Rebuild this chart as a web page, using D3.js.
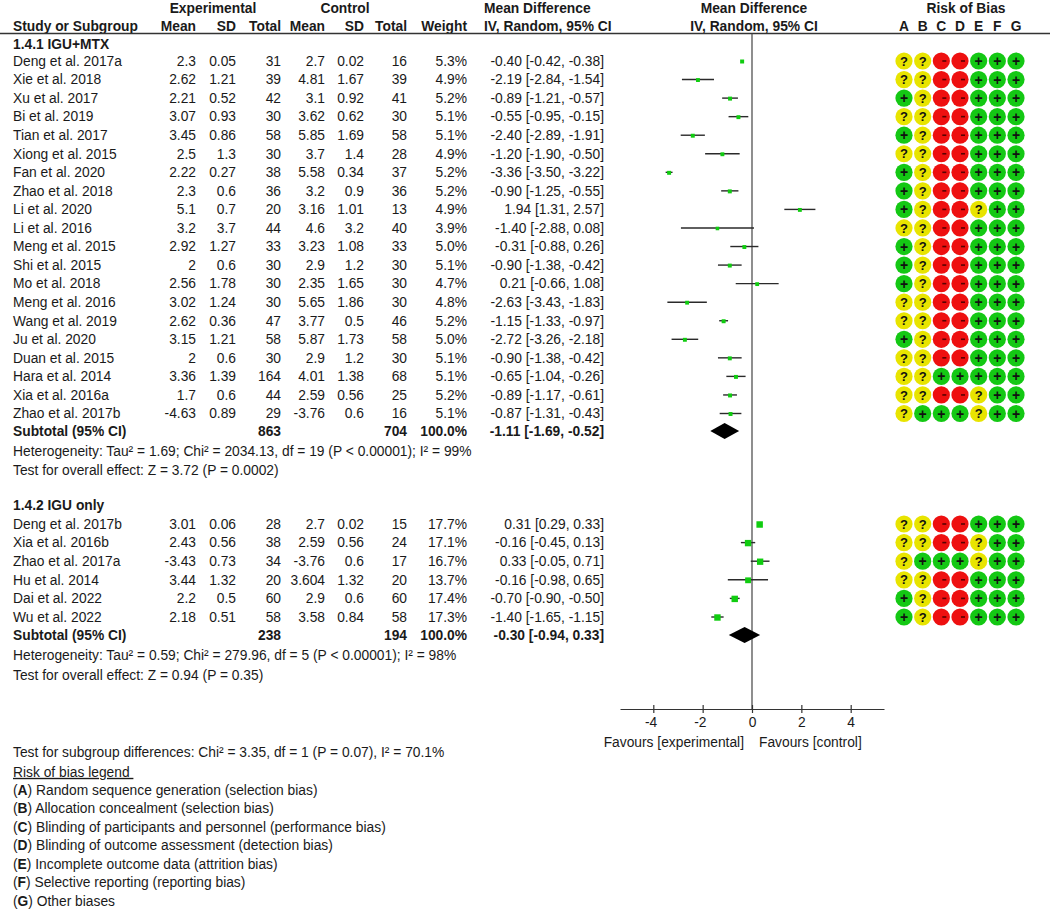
<!DOCTYPE html>
<html><head><meta charset="utf-8">
<script src="https://cdn.jsdelivr.net/npm/d3@7"></script>
<style>
html,body{margin:0;padding:0;background:#fff;}
text{font-family:Arial,"Liberation Sans",sans-serif;fill:#1a1a1a;}
</style></head>
<body><svg id="c" width="1052" height="911"></svg>
<script>
// ---------- data ----------
const studies1 = ["Deng et al. 2017a","Xie et al. 2018","Xu et al. 2017","Bi et al. 2019","Tian et al. 2017","Xiong et al. 2015","Fan et al. 2020","Zhao et al. 2018","Li et al. 2020","Li et al. 2016","Meng et al. 2015","Shi et al. 2015","Mo et al. 2018","Meng et al. 2016","Wang et al. 2019","Ju et al. 2020","Duan et al. 2015","Hara et al. 2014","Xia et al. 2016a","Zhao et al. 2017b"];
const expMean1 = ["2.3","2.62","2.21","3.07","3.45","2.5","2.22","2.3","5.1","3.2","2.92","2","2.56","3.02","2.62","3.15","2","3.36","1.7","-4.63"];
const expSD1 = ["0.05","1.21","0.52","0.93","0.86","1.3","0.27","0.6","0.7","3.7","1.27","0.6","1.78","1.24","0.36","1.21","0.6","1.39","0.6","0.89"];
const expN1 = [31,39,42,30,58,30,38,36,20,44,33,30,30,30,47,58,30,164,44,29];
const ctlMean1 = ["2.7","4.81","3.1","3.62","5.85","3.7","5.58","3.2","3.16","4.6","3.23","2.9","2.35","5.65","3.77","5.87","2.9","4.01","2.59","-3.76"];
const ctlSD1 = ["0.02","1.67","0.92","0.62","1.69","1.4","0.34","0.9","1.01","3.2","1.08","1.2","1.65","1.86","0.5","1.73","1.2","1.38","0.56","0.6"];
const ctlN1 = [16,39,41,30,58,28,37,36,13,40,33,30,30,30,46,58,30,68,25,16];
const weight1 = [5.3,4.9,5.2,5.1,5.1,4.9,5.2,5.2,4.9,3.9,5.0,5.1,4.7,4.8,5.2,5.0,5.1,5.1,5.2,5.1];
const md1 = [-0.40,-2.19,-0.89,-0.55,-2.40,-1.20,-3.36,-0.90,1.94,-1.40,-0.31,-0.90,0.21,-2.63,-1.15,-2.72,-0.90,-0.65,-0.89,-0.87];
const lo1 = [-0.42,-2.84,-1.21,-0.95,-2.89,-1.90,-3.50,-1.25,1.31,-2.88,-0.88,-1.38,-0.66,-3.43,-1.33,-3.26,-1.38,-1.04,-1.17,-1.31];
const hi1 = [-0.38,-1.54,-0.57,-0.15,-1.91,-0.50,-3.22,-0.55,2.57,0.08,0.26,-0.42,1.08,-1.83,-0.97,-2.18,-0.42,-0.26,-0.61,-0.43];
const rob1 = ["??--+++","??--+++","+?--+++","??--+++","+?--+++","??--+++","+?--+++","+?--+++","+?--?++","??--+++","+?--+++","+?--+++","+?--+++","??--+++","??--+++","+?--+++","??--+++","??+++++","??--?++","?+++?++"];
const subtotal1 = {expN:863, ctlN:704, weight:"100.0%", md:-1.11, lo:-1.69, hi:-0.52};

const studies2 = ["Deng et al. 2017b","Xia et al. 2016b","Zhao et al. 2017a","Hu et al. 2014","Dai et al. 2022","Wu et al. 2022"];
const expMean2 = ["3.01","2.43","-3.43","3.44","2.2","2.18"];
const expSD2 = ["0.06","0.56","0.73","1.32","0.5","0.51"];
const expN2 = [28,38,34,20,60,58];
const ctlMean2 = ["2.7","2.59","-3.76","3.604","2.9","3.58"];
const ctlSD2 = ["0.02","0.56","0.6","1.32","0.6","0.84"];
const ctlN2 = [15,24,17,20,60,58];
const weight2 = [17.7,17.1,16.7,13.7,17.4,17.3];
const md2 = [0.31,-0.16,0.33,-0.16,-0.70,-1.40];
const lo2 = [0.29,-0.45,-0.05,-0.98,-0.90,-1.65];
const hi2 = [0.33,0.13,0.71,0.65,-0.50,-1.15];
const rob2 = ["??--+++","??--?++","?+++?++","??--+++","+?--+++","+?--+++"];
const subtotal2 = {expN:238, ctlN:194, weight:"100.0%", md:-0.30, lo:-0.94, hi:0.33};

const groupTitles = ["1.4.1 IGU+MTX","1.4.2 IGU only"];
const hetTexts = ["Heterogeneity: Tau² = 1.69; Chi² = 2034.13, df = 19 (P < 0.00001); I² = 99%","Heterogeneity: Tau² = 0.59; Chi² = 279.96, df = 5 (P < 0.00001); I² = 98%"];
const testTexts = ["Test for overall effect: Z = 3.72 (P = 0.0002)","Test for overall effect: Z = 0.94 (P = 0.35)"];
const subgroupText = "Test for subgroup differences: Chi² = 3.35, df = 1 (P = 0.07), I² = 70.1%";
const robLetters = ["A","B","C","D","E","F","G"];
const robLegend = ["Random sequence generation (selection bias)","Allocation concealment (selection bias)","Blinding of participants and personnel (performance bias)","Blinding of outcome assessment (detection bias)","Incomplete outcome data (attrition bias)","Selective reporting (reporting bias)","Other biases"];
const axisTicks = [-4,-2,0,2,4];
const favours = ["Favours [experimental]","Favours [control]"];

// ---------- helpers ----------
const svg = d3.select("#c");
const FS = 13.8;
const fmt2 = v => v.toFixed(2);
const fmtW = d => d.toFixed(1) + "%";
const ciText = (m,l,h) => `${fmt2(m)} [${fmt2(l)}, ${fmt2(h)}]`;
function txt(x,y,s,anchor="start",bold=false,size=FS){
  return svg.append("text").attr("x",x).attr("y",y).attr("dy","0.35em")
    .attr("text-anchor",anchor).attr("font-size",size)
    .attr("font-weight",bold?"bold":"normal").text(s);
}
const col = {study:13, eMean:196, eSD:236, eN:281, cMean:325, cSD:364, cN:407, w:467, ciR:604, ciL:484};
const x = d3.scaleLinear().domain([-5.35,5.35]).range([620,884]);
const robX = d3.scalePoint().domain(robLetters).range([904,1016]);
const robColor = {"?":"#e8e400","-":"#ee1010","+":"#14c814"};

// ---------- layout rows ----------
const rowY1 = d3.scaleLinear().domain([0,19]).range([61,413.5]);
const rowY2 = d3.scaleLinear().domain([0,5]).range([524,617]);
const layout = [
  {studies:studies1,eM:expMean1,eS:expSD1,eN:expN1,cM:ctlMean1,cS:ctlSD1,cN:ctlN1,w:weight1,md:md1,lo:lo1,hi:hi1,rob:rob1,sub:subtotal1,yScale:rowY1,titleY:44,subY:431,hetY:451,testY:470},
  {studies:studies2,eM:expMean2,eS:expSD2,eN:expN2,cM:ctlMean2,cS:ctlSD2,cN:ctlN2,w:weight2,md:md2,lo:lo2,hi:hi2,rob:rob2,sub:subtotal2,yScale:rowY2,titleY:505,subY:635,hetY:655,testY:675}
];

// ---------- headers ----------
txt(213,8,"Experimental","middle",true);
txt(345,8,"Control","middle",true);
txt(col.ciL,8,"Mean Difference","start",true);
txt(x(0)+2,8,"Mean Difference","middle",true);
txt(966,8,"Risk of Bias","middle",true);
const hy = 26;
txt(col.study,hy,"Study or Subgroup","start",true);
txt(col.eMean,hy,"Mean","end",true);
txt(col.eSD,hy,"SD","end",true);
txt(col.eN,hy,"Total","end",true);
txt(col.cMean,hy,"Mean","end",true);
txt(col.cSD,hy,"SD","end",true);
txt(col.cN,hy,"Total","end",true);
txt(col.w,hy,"Weight","end",true);
txt(col.ciL,hy,"IV, Random, 95% CI","start",true);
txt(x(0)+2,hy,"IV, Random, 95% CI","middle",true);
robLetters.forEach(L => txt(robX(L),hy,L,"middle",true));
svg.append("line").attr("x1",0).attr("x2",1050).attr("y1",33.5).attr("y2",33.5)
  .attr("stroke","#333").attr("stroke-width",1.3);

// zero line
svg.append("line").attr("x1",x(0)).attr("x2",x(0)).attr("y1",33.5).attr("y2",709)
  .attr("stroke","#444").attr("stroke-width",1.2);

// ---------- groups ----------
layout.forEach((g,gi) => {
  txt(col.study,g.titleY,groupTitles[gi],"start",true);
  g.studies.forEach((s,i) => {
    const y = g.yScale(i);
    txt(col.study,y,s);
    txt(col.eMean,y,g.eM[i],"end");
    txt(col.eSD,y,g.eS[i],"end");
    txt(col.eN,y,g.eN[i],"end");
    txt(col.cMean,y,g.cM[i],"end");
    txt(col.cSD,y,g.cS[i],"end");
    txt(col.cN,y,g.cN[i],"end");
    txt(col.w,y,fmtW(g.w[i]),"end");
    txt(col.ciR,y,ciText(g.md[i],g.lo[i],g.hi[i]),"end");
    svg.append("line").attr("x1",x(g.lo[i])).attr("x2",x(g.hi[i])).attr("y1",y).attr("y2",y)
      .attr("stroke","#2a2a2a").attr("stroke-width",1.4);
    const sz = 1.3*Math.sqrt(g.w[i]) + 1;
    svg.append("rect").attr("x",x(g.md[i])-sz/2).attr("y",y-sz/2+0.5).attr("width",sz).attr("height",sz)
      .attr("fill","#10cc10");
    g.rob[i].split("").forEach((r,k) => {
      const cx = robX(robLetters[k]);
      svg.append("circle").attr("cx",cx).attr("cy",y).attr("r",8.6).attr("fill",robColor[r]);
      if (r === "-") {
        svg.append("line").attr("x1",cx+1).attr("x2",cx+5).attr("y1",y).attr("y2",y)
          .attr("stroke","#5a0000").attr("stroke-width",1.6);
      } else {
        svg.append("text").attr("x",cx).attr("y",y).attr("dy","0.36em").attr("text-anchor","middle")
          .attr("font-size",r==="?"?13:14).attr("font-weight","bold").style("fill","#111").text(r);
      }
    });
  });
  const sy = g.subY;
  txt(col.study,sy,"Subtotal (95% CI)","start",true);
  txt(col.eN,sy,g.sub.expN,"end",true);
  txt(col.cN,sy,g.sub.ctlN,"end",true);
  txt(col.w,sy,g.sub.weight,"end",true);
  txt(col.ciR,sy,ciText(g.sub.md,g.sub.lo,g.sub.hi),"end",true);
  const dh = 8;
  svg.append("path").attr("d",`M${x(g.sub.lo)},${sy} L${x(g.sub.md)},${sy-dh} L${x(g.sub.hi)},${sy} L${x(g.sub.md)},${sy+dh} Z`)
    .attr("fill","#000");
  txt(col.study,g.hetY,hetTexts[gi]);
  txt(col.study,g.testY,testTexts[gi]);
});

// ---------- axis ----------
const axisG = svg.append("g").attr("transform","translate(0,709)")
  .call(d3.axisBottom(x).tickValues(axisTicks).tickFormat(d => String(d)).tickSizeOuter(0).tickSizeInner(4));
axisG.select(".domain").attr("stroke","#333").attr("stroke-width",1.2);
axisG.selectAll(".tick line").attr("y1",-4).attr("y2",4).attr("stroke","#333").attr("stroke-width",1.2);
axisG.selectAll(".tick text").attr("y",8).attr("font-size",FS).attr("font-family","Arial,'Liberation Sans',sans-serif").style("fill","#1a1a1a");
axisG.selectAll(".tick").filter(d => d < 0).select("text").attr("dx","-0.2em");
txt(744,742,favours[0],"end");
txt(759,742,favours[1],"start");

// ---------- bottom ----------
txt(13,752,subgroupText);
const lg = txt(13,772,"Risk of bias legend\u00a0");
lg.attr("text-decoration","underline");
robLegend.forEach((s,i) => {
  const t = svg.append("text").attr("x",13).attr("y",790+i*18.5).attr("dy","0.35em").attr("font-size",FS);
  t.append("tspan").text("(");
  t.append("tspan").attr("font-weight","bold").text(robLetters[i]);
  t.append("tspan").text(") " + s);
});
</script></body></html>
